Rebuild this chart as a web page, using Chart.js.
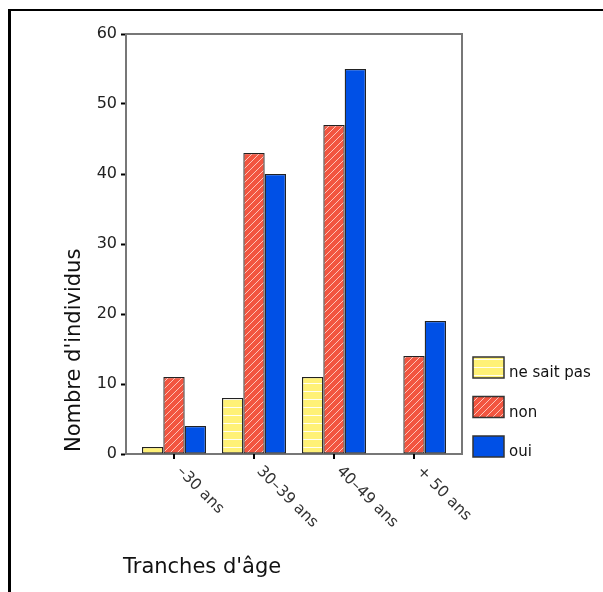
<!DOCTYPE html>
<html lang="fr">
<head>
<meta charset="UTF-8">
<title>Tranches d'âge</title>
<script src="https://cdn.jsdelivr.net/npm/chart.js"></script>
<style>
    html, body {
        margin: 0;
        padding: 0;
        background: #fff;
        overflow: hidden;
    }

    .wrap {
        position: relative;
        width: 603px;
        height: 592px;
    }

    /* cadre noir autour du graphique */
    .cadre {
        position: absolute;
        left: 8px;
        top: 9px;
        width: 700px;
        height: 700px;
        border-left: 3px solid #000;
        border-top: 2px solid #000;
        pointer-events: none;
    }

    canvas {
        position: absolute;
        left: 0;
        top: 0;
    }
</style>
</head>
<body>
<div class="wrap">
    <canvas id="graphique" width="603" height="592"></canvas>
    <div class="cadre"></div>
</div>

<script>
const tranches = ['\u201330 ans', '30\u201339 ans', '40\u201349 ans', '+ 50 ans'];
const neSaitPas = [1, 8, 11, null];
const non = [11, 43, 47, 14];
const oui = [4, 40, 55, 19];
const graduations = [0, 10, 20, 30, 40, 50, 60];

const POLICE = '"DejaVu Sans", sans-serif';

// motifs de remplissage (rayures)
function motifHorizontal() {
    const c = document.createElement('canvas');
    c.width = 8; c.height = 8;
    const g = c.getContext('2d');
    g.fillStyle = '#fff176';
    g.fillRect(0, 0, 8, 8);
    g.fillStyle = 'rgba(255,255,255,0.9)';
    g.fillRect(0, 7, 8, 1);
    return g.createPattern(c, 'repeat');
}

function motifDiagonal() {
    const c = document.createElement('canvas');
    c.width = 7; c.height = 7;
    const g = c.getContext('2d');
    g.fillStyle = '#f25540';
    g.fillRect(0, 0, 7, 7);
    g.strokeStyle = 'rgba(255,225,215,0.8)';
    g.lineWidth = 1;
    g.beginPath();
    g.moveTo(-1, 8); g.lineTo(8, -1);
    g.moveTo(-1, 1); g.lineTo(1, -1);
    g.moveTo(6, 8); g.lineTo(8, 6);
    g.stroke();
    return g.createPattern(c, 'repeat');
}

const fondJaune = motifHorizontal();
const fondRouge = motifDiagonal();
const fondBleu = '#0050e6';

const series = [
    { label: 'ne sait pas', valeurs: neSaitPas, fond: fondJaune },
    { label: 'non', valeurs: non, fond: fondRouge },
    { label: 'oui', valeurs: oui, fond: fondBleu },
];

// cadre gris de la zone de tracé
const cadreZone = {
    id: 'cadreZone',
    beforeDatasetsDraw(chart) {
        const { ctx, chartArea: a } = chart;
        ctx.save();
        ctx.strokeStyle = '#777';
        ctx.lineWidth = 2;
        ctx.strokeRect(a.left, a.top, a.right - a.left, a.bottom - a.top);
        ctx.restore();
    }
};

// graduations et étiquettes de l'axe x, titres, légende
const habillage = {
    id: 'habillage',
    afterDraw(chart) {
        const { ctx, chartArea: a } = chart;
        const x = chart.scales.x;
        ctx.save();

        // petits traits sous l'axe
        ctx.strokeStyle = '#000';
        ctx.lineWidth = 2;
        tranches.forEach((t, i) => {
            const px = Math.round(x.getPixelForValue(i));
            ctx.beginPath();
            ctx.moveTo(px, a.bottom);
            ctx.lineTo(px, a.bottom + 5);
            ctx.stroke();
        });

        // étiquettes inclinées
        ctx.fillStyle = '#333';
        ctx.font = '15.5px ' + POLICE;
        ctx.textAlign = 'left';
        ctx.textBaseline = 'middle';
        tranches.forEach((t, i) => {
            const px = x.getPixelForValue(i);
            ctx.save();
            ctx.translate(px + 5, a.bottom + 15);
            ctx.rotate(Math.PI / 4);
            ctx.fillText(t, 0, 0);
            ctx.restore();
        });

        // titres des axes
        ctx.fillStyle = '#111';
        ctx.font = '21px ' + POLICE;
        ctx.textBaseline = 'alphabetic';
        ctx.textAlign = 'left';
        ctx.fillText("Tranches d'âge", 123, 573);

        ctx.save();
        ctx.translate(80, a.bottom - 2);
        ctx.rotate(-Math.PI / 2);
        ctx.fillText("Nombre d'individus", 0, 0);
        ctx.restore();

        // légende
        ctx.font = '15px ' + POLICE;
        ctx.lineWidth = 1.5;
        ctx.strokeStyle = '#333';
        series.forEach((s, i) => {
            const y0 = 357 + i * 39.5;
            ctx.fillStyle = s.fond;
            ctx.fillRect(473, y0, 31, 21);
            ctx.strokeRect(473, y0, 31, 21);
            ctx.fillStyle = '#111';
            ctx.fillText(s.label, 509, y0 + 20);
        });

        ctx.restore();
    }
};

new Chart(document.getElementById('graphique'), {
    type: 'bar',
    data: {
        datasets: series.map(s => ({
            label: s.label,
            data: s.valeurs.map((v, i) => ({ x: i, y: v })),
            backgroundColor: s.fond,
            borderColor: '#222',
            borderWidth: 1.3,
            borderSkipped: false,
            inflateAmount: 0,
            categoryPercentage: 0.8,
            barPercentage: 1.0,
        })),
    },
    options: {
        responsive: false,
        animation: false,
        events: [],
        layout: {
            padding: { left: 0, top: 34, right: 141, bottom: 138 },
        },
        plugins: {
            legend: { display: false },
            tooltip: { enabled: false },
        },
        scales: {
            x: {
                type: 'linear',
                display: false,
                offset: false,
                grid: { offset: false },
                min: -0.6,
                max: 3.6,
                afterBuildTicks: scale => {
                    scale.ticks = tranches.map((t, i) => ({ value: i }));
                },
            },
            y: {
                min: 0,
                max: 60,
                afterFit: scale => { scale.width = 126; },
                afterBuildTicks: scale => {
                    scale.ticks = graduations.map(v => ({ value: v }));
                },
                grid: {
                    drawOnChartArea: false,
                    tickLength: 5,
                    tickColor: '#000',
                    tickWidth: 2,
                },
                border: { color: '#777', width: 2 },
                ticks: {
                    padding: 4,
                    color: '#222',
                    font: { family: POLICE, size: 16 },
                },
            },
        },
    },
    plugins: [cadreZone, habillage],
});
</script>
</body>
</html>
